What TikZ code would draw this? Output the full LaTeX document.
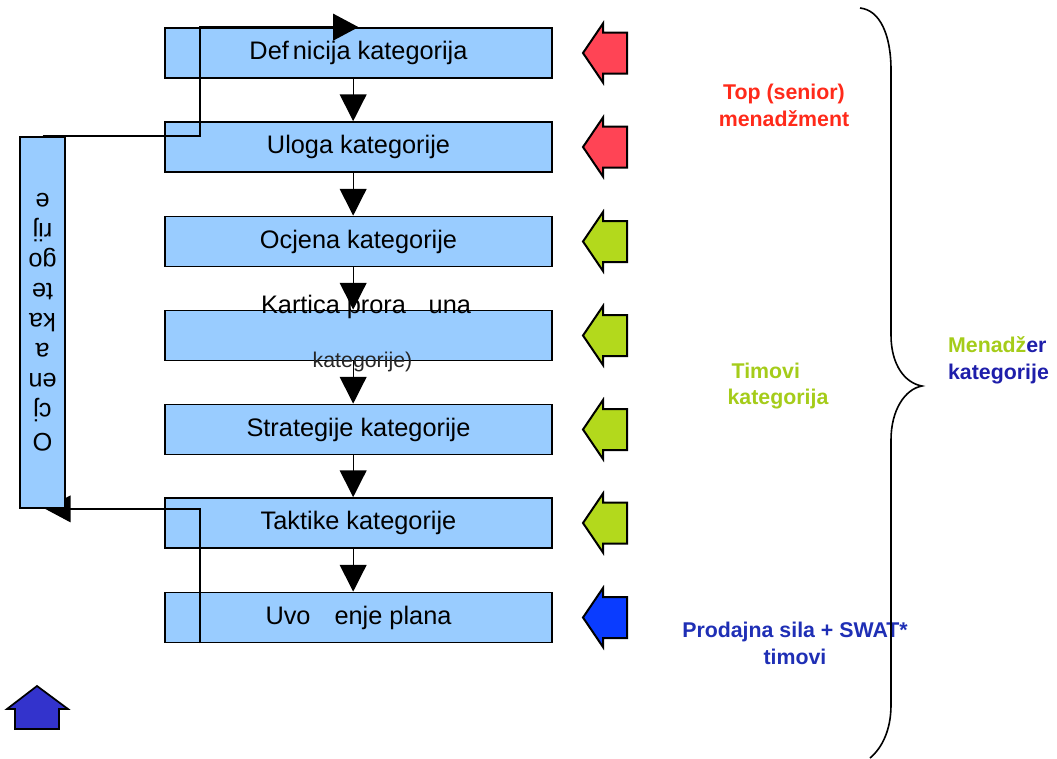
\documentclass[tikz,border=0pt]{standalone}
\usepackage{fontspec}
\setmainfont{Liberation Sans}
\usetikzlibrary{arrows.meta}
\pgfdeclarelayer{front}
\pgfsetlayers{main,front}
\definecolor{boxblue}{HTML}{99CCFF}
\definecolor{ared}{HTML}{FF4455}
\definecolor{agreen}{HTML}{B3D91C}
\definecolor{ablue}{HTML}{0A3CFF}
\definecolor{hblue}{HTML}{3333CC}
\definecolor{tred}{HTML}{FF2A1A}
\definecolor{tgreen}{HTML}{A5CC1A}
\definecolor{tblue}{HTML}{1F2FB5}
\definecolor{tdblue}{HTML}{1E1EAA}
\begin{document}
\begin{tikzpicture}[x=0.75pt,y=-0.75pt,
  stepbox/.style={draw=black, line width=1.3pt, fill=boxblue, minimum width=290pt, minimum height=37.5pt, inner sep=0pt, font=\fontsize{19}{22}\selectfont},
  boxtext/.style={inner sep=0pt, font=\fontsize{19}{22}\selectfont},
  flow/.style={line width=1pt, -{Triangle[length=20pt,width=20pt]}},
  fback/.style={line width=1pt, -{Triangle[length=19pt,width=20pt]}},
  grouptext/.style={font=\bfseries\fontsize{16}{20}\selectfont, align=center, inner sep=0pt},
  pics/larrow/.style={code={\draw[line width=1.5pt, fill=#1, line join=miter] (-22,0) -- (-2,-29.5) -- (-2,-20.5) -- (22,-20.5) -- (22,20.5) -- (-2,20.5) -- (-2,29.5) -- cycle;}}
]
\useasboundingbox (0,0) rectangle (1057,758);

% main boxes
\node[stepbox] (b1) at (358.5,53) {Def\hspace{3pt}nicija kategorija};
\node[stepbox] (b2) at (358.5,147) {Uloga kategorije};
\node[stepbox] (b3) at (358.5,241.5) {Ocjena kategorije};
\node[stepbox] (b4) at (358.5,335.5) {};
\node[stepbox] (b5) at (358.5,429.5) {Strategije kategorije};
\node[stepbox] (b6) at (358.5,523) {Taktike kategorije};
\node[stepbox] (b7) at (358.5,617.5) {Uvo\hspace{18pt}enje plana};

% flow arrows
\draw[flow] ([xshift=-4pt]b1.south) -- ([xshift=-4pt]b2.north);
\draw[flow] ([xshift=-4pt]b2.south) -- ([xshift=-4pt]b3.north);
\draw[flow] ([xshift=-4pt]b3.south) -- ([xshift=-4pt]b4.north);
\draw[flow] ([xshift=-4pt]b4.south) -- ([xshift=-4pt]b5.north);
\draw[flow] ([xshift=-4pt]b5.south) -- ([xshift=-4pt]b6.north);
\draw[flow] ([xshift=-4pt]b6.south) -- ([xshift=-4pt]b7.north);

% text of box 4 (overflows the box)
\node[boxtext] (b4a) at (366,307) {Kartica prora\hspace{17pt}una};
\node[boxtext, font=\fontsize{16}{20}\selectfont, text=black!85] (b4b) at (362.5,362) {kategorije)};

% left feedback box (rotated 180 degrees: its south anchor is on top)
\begin{pgfonlayer}{front}
\node[draw=black, line width=1.3pt, fill=boxblue, minimum width=33.75pt, minimum height=278.25pt,
      inner sep=0pt, rotate=180, align=center, font=\fontsize{19}{22.5}\selectfont] (lb) at (42.5,322.5)
      {O\\cj\\en\\a\\ka\\te\\go\\rij\\e};
\end{pgfonlayer}

% feedback connectors
\coordinate (fx) at (200,0);
\draw[fback] (lb.south) -- (lb.south -| fx) |- (b1.north);
\draw[fback] (b7.south -| fx) |- ([xshift=2pt]lb.north);

% block arrows on the right
\pic (ra1) at (605,53) {larrow=ared};
\pic (ra2) at (605,147) {larrow=ared};
\pic (ra3) at (605,241.5) {larrow=agreen};
\pic (ra4) at (605,335.5) {larrow=agreen};
\pic (ra5) at (605,429.5) {larrow=agreen};
\pic (ra6) at (605,523) {larrow=agreen};
\pic (ra7) at (605,617.5) {larrow=ablue};

% house-shaped arrow bottom-left
\draw[line width=1.3pt, fill=hblue, line join=miter] (37,686) -- (68,709) -- (59,709) -- (59,729) -- (15,729) -- (15,709) -- (7,709) -- cycle;

% group labels
\node[grouptext, text=tred] (top) at (784,105.5) {Top (senior)\\menadžment};
\node[grouptext, text=tgreen, align=left] (tim) at (778,386) {\hspace{3pt}Timovi\\kategorija};
\node[grouptext, text=tblue] (ps) at (795,643.5) {Prodajna sila + SWAT*\\timovi};
\node[grouptext, align=left] (mk) at (998.5,360) {{\color{tgreen}Menadž}{\color{tdblue}er}\\{\color{tdblue}kategorije}};

% brace
\draw[line width=1.2pt] (860,8) .. controls (880,10) and (891,35) .. (891,70) -- (891,335)
  .. controls (891,365) and (905,383) .. (922,386)
  .. controls (905,389) and (891,410) .. (891,440) -- (891,705)
  .. controls (891,730) and (882,748) .. (870,758);
\end{tikzpicture}
\end{document}
